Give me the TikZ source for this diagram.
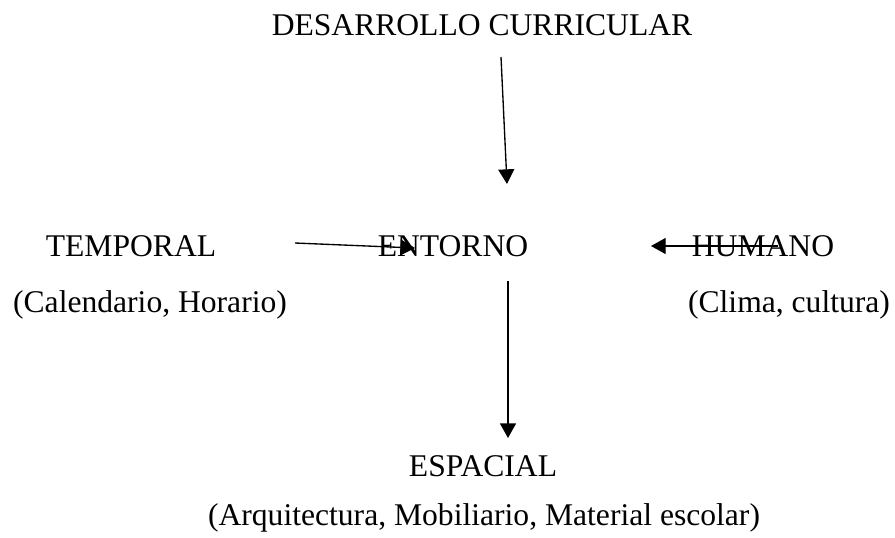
\documentclass[tikz,border=0pt]{standalone}
\usepackage{fontspec}
\setmainfont{Liberation Serif}
\usetikzlibrary{arrows.meta}
\tikzset{T/.style={inner sep=0pt, anchor=base, font=\fontsize{23.7}{28}\selectfont}}
\tikzset{A/.style={line width=1pt, -{Triangle[length=11pt,width=12pt]}}}

\begin{document}
\begin{tikzpicture}[x=0.75pt,y=-0.75pt]
            \useasboundingbox (0,0) rectangle (895,537);
            \node[T] (desarrollo) at (482,35) {DESARROLLO CURRICULAR};
            \node[T] (temporal) at (131,256) {TEMPORAL};
            \node[T] (entorno) at (453,256) {ENTORNO};
            \node[T] (humano) at (763,256) {HUMANO};
            \node[T] (calendario) at (150,312) {(Calendario, Horario)};
            \node[T] (clima) at (789,312) {(Clima, cultura)};
            \node[T] (espacial) at (483,476) {ESPACIAL};
            \node[T] (arquitectura) at (484,525) {(Arquitectura, Mobiliario, Material escolar)};
            % arrow ends
            \coordinate (d1) at (501,57);
            \coordinate (d2) at (507,184);
            \coordinate (t1) at (295,243);
            \coordinate (t2) at (415,248);
            \coordinate (h1) at (778,246);
            \coordinate (h2) at (651,246);
            \coordinate (e1) at (508,281);
            \coordinate (e2) at (508,438);
            \draw[A] (d1) -- (d2);
            \draw[A] (t1) -- (t2);
            \draw[A] (h1) -- (h2);
            \draw[A] (e1) -- (e2);
        \end{tikzpicture}
\end{document}
